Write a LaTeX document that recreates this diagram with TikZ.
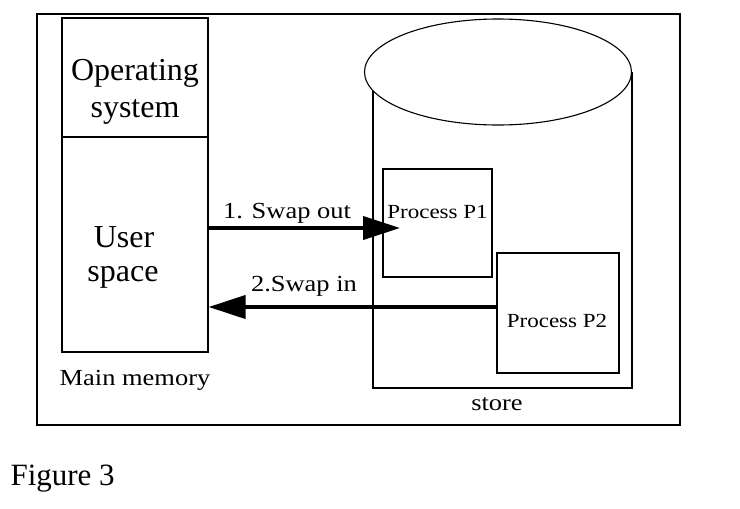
\documentclass[tikz,border=0pt]{standalone}
\usepackage{fontspec}
\setmainfont{Liberation Serif}
\newfontfamily\widefont{Liberation Serif}[FakeStretch=1.15]
\usetikzlibrary{arrows.meta,calc}

\tikzset{
  box/.style={draw,line width=1.1pt,inner sep=0pt},
  bigtext/.style={anchor=base,font={\fontsize{32}{37}\selectfont}},
  smalltext/.style={anchor=base,font={\widefont\fontsize{23}{27}\selectfont}},
  proctext/.style={anchor=base,font={\widefont\fontsize{20}{24}\selectfont}},
  swaparrow/.style={line width=4pt,-{Triangle[length=37pt,width=23pt]}}
}

\begin{document}
\begin{tikzpicture}[x=1pt,y=-1pt]
  \useasboundingbox (0,0) rectangle (740,509);

  % frame
  \draw[line width=1.4pt] (37,14) rectangle (680,425);

  % main memory
  \node[box,minimum width=146pt,minimum height=119pt] (os) at (135,77.5) {};
  \node[box,minimum width=146pt,minimum height=215pt] (user) at (135,244.5) {};
  \node[bigtext] (osa) at (135,80) {Operating};
  \node[bigtext] (osb) at (135,117) {system};
  \node[bigtext] (usera) at (124,247) {User};
  \node[bigtext] (userb) at (123,281) {space};
  \node[smalltext] (memlabel) at (135,385) {Main memory};

  % store
  \draw[line width=1.1pt] (498,72) ellipse (133.5 and 53);
  \draw[line width=1.1pt] (373,90.5) -- (373,388) -- (632,388) -- (632,72);
  \node[smalltext] (storelabel) at (497,410) {store};

  \node[box,minimum width=109pt,minimum height=108pt] (p1) at (437.5,223) {};
  \node[proctext] (p1label) at (437.5,218) {Process P1};
  \node[box,minimum width=122pt,minimum height=120pt] (p2) at (558,313) {};
  \node[proctext] (p2label) at (557,327) {Process P2};

  % swapping
  \coordinate (outtip) at (400,228);
  \coordinate (intail) at (p2.west |- 0,307);
  \draw[swaparrow] (user.east |- outtip) -- (outtip);
  \draw[swaparrow] (intail) -- (user.east |- intail);
  \node[smalltext] (outlabel) at (287,218) {1. Swap out};
  \node[smalltext] (inlabel) at (304,291) {2.Swap in};

  \node[anchor=base west,font={\fontsize{31}{36}\selectfont}] (caption) at (7,485) {Figure 3};
\end{tikzpicture}
\end{document}
